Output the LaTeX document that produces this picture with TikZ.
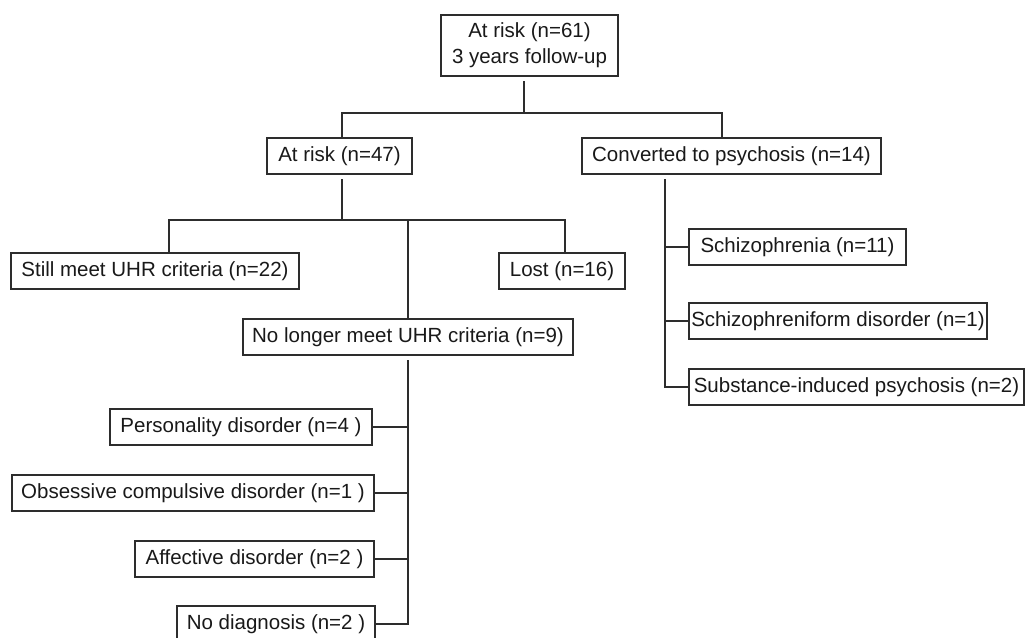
\documentclass[tikz,border=0pt]{standalone}
\usepackage{fontspec}
\setmainfont{Liberation Sans}
\usetikzlibrary{positioning}
\definecolor{chartline}{RGB}{45,45,45}
\definecolor{charttext}{RGB}{25,25,25}

\begin{document}
\begin{tikzpicture}[
  x=0.03cm, y=-0.03cm,
  box/.style={rectangle, draw=chartline, line width=1.1pt, fill=white,
              minimum height=1.08cm, inner sep=0pt, align=center,
              text=charttext, font=\fontsize{17.5}{22}\selectfont},
  link/.style={draw=chartline, line width=1.1pt},
  from/.style={shorten <=4pt}
]
\useasboundingbox (0,0) rectangle (1027,637);
\node[box, minimum width=5.31cm, minimum height=1.83cm] (top) at (529.5,45.5)
  {At risk (n=61)\\3 years follow-up};
\node[box, minimum width=4.35cm] (risk) at (339.5,156) {At risk (n=47)};
\node[box, minimum width=8.97cm] (conv) at (731.5,156) {Converted to psychosis (n=14)};
\node[box, minimum width=8.64cm] (still) at (155,271) {Still meet UHR criteria (n=22)};
\node[box, minimum width=3.78cm] (lost) at (562,271) {Lost (n=16)};
\node[box, minimum width=9.9cm] (nolonger) at (408,337) {No longer meet UHR criteria (n=9)};
\node[box, minimum width=7.86cm] (pers) at (241,427) {Personality disorder (n=4 )};
\node[box, minimum width=10.86cm] (ocd) at (193,493) {Obsessive compulsive disorder (n=1 )};
\node[box, minimum width=7.17cm] (aff) at (254.5,559) {Affective disorder (n=2 )};
\node[box, minimum width=5.94cm] (nodiag) at (276,624) {No diagnosis (n=2 )};
\node[box, minimum width=6.51cm] (schiz) at (797.5,247) {Schizophrenia (n=11)};
\node[box, minimum width=8.94cm] (schform) at (838,321) {Schizophreniform disorder (n=1)};
\node[box, minimum width=10.05cm] (subst) at (856.5,387) {Substance-induced psychosis (n=2)};
\coordinate (s0) at (524,113);
\coordinate (s1) at (342,220);
\coordinate (s2) at (665,0);
\draw[link, from] (top.south -| s0) -- (s0);
\draw[link] (risk.north -| s1) |- (s0) -| (conv.north -| 722,0);
\draw[link, from] (risk.south -| s1) -- (s1);
\draw[link] (still.north -| 169,0) |- (s1) -| (lost.north -| 565,0);
\draw[link] (s1 -| nolonger) -- (nolonger.north);
\draw[link, from] (nolonger.south) |- (nodiag.east);
\draw[link] (pers.east) -- (pers.east -| nolonger);
\draw[link] (ocd.east) -- (ocd.east -| nolonger);
\draw[link] (aff.east) -- (aff.east -| nolonger);
\draw[link, from] (conv.south -| s2) |- (subst.west);
\draw[link] (schiz.west) -- (schiz.west -| s2);
\draw[link] (schform.west) -- (schform.west -| s2);
\end{tikzpicture}
\end{document}
